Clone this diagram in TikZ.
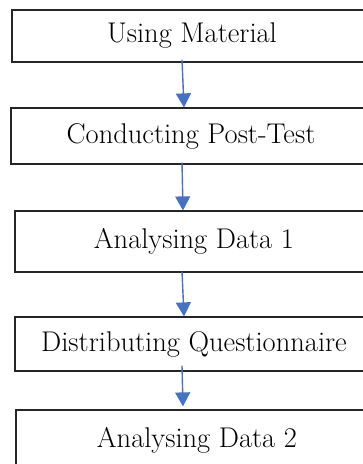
\documentclass[tikz,border=0pt]{standalone}
\usetikzlibrary{arrows.meta,calc}

\definecolor{flowblue}{RGB}{68,114,196}

\tikzset{
  stepbox/.style={draw=black!85, line width=1.2pt, rectangle, minimum width=360pt,
    inner sep=0pt, font=\fontsize{28.5}{32}\selectfont},
  flow/.style={draw=flowblue, line width=1.4pt, -{Triangle[width=15pt,length=14pt]}}
}

\begin{document}
\begin{tikzpicture}[x=1pt,y=-1pt]
    \useasboundingbox (0,0) rectangle (363,464);
    \clip (0,0) rectangle (363,464);

    \node[stepbox, minimum height=52pt] (use) at (192,36) {Using Material};
    \node[stepbox, minimum height=56pt] (post) at (191,136) {Conducting Post-Test};
    \node[stepbox, minimum height=61pt, minimum width=358pt] (data1) at (194,241.5) {Analysing Data 1};
    \node[stepbox, minimum height=54pt, minimum width=358pt] (quest) at (194,344) {Distributing Questionnaire};
    \node[stepbox, minimum height=60pt, minimum width=362pt] (data2) at (197,440) {Analysing Data 2};

    \draw[flow] ([xshift=-10pt,yshift=3pt]use.south) -- ([xshift=-7pt]post.north);
    \draw[flow] ([xshift=-9pt,yshift=2pt]post.south) -- ([xshift=-11pt]data1.north);
    \draw[flow] ([xshift=-12pt,yshift=1pt]data1.south) -- ([xshift=-10pt]quest.north);
    \draw[flow] ([xshift=-12pt,yshift=6pt]quest.south) -- ([xshift=-14pt,yshift=3pt]data2.north);
\end{tikzpicture}
\end{document}
